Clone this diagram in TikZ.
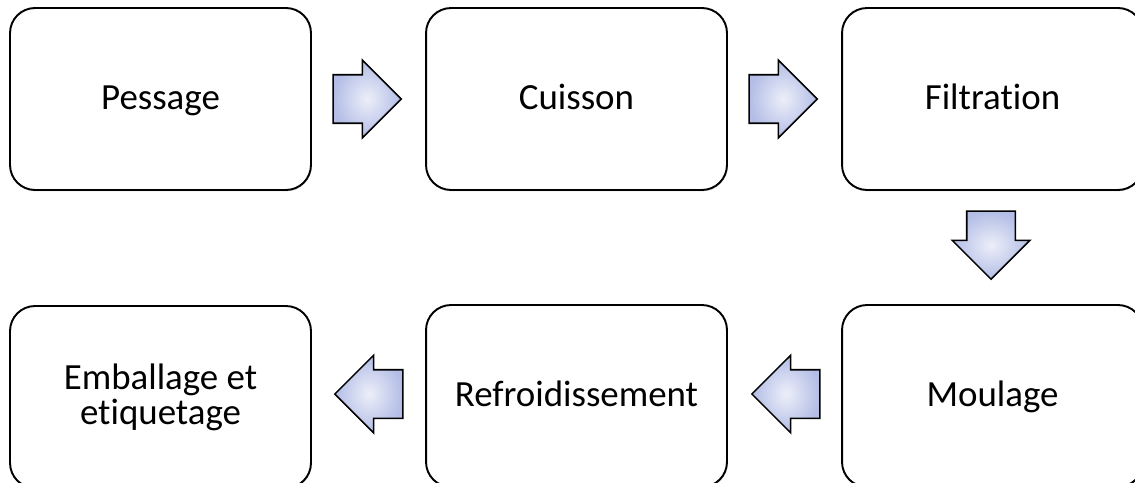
\documentclass[tikz,border=0pt]{standalone}
\usepackage{fontspec}
\setmainfont{Carlito}[Ligatures=NoCommon]
\usetikzlibrary{shapes.arrows,shadows}

\definecolor{flechebleu}{HTML}{B3BDE6}

\tikzset{
  etape/.style={draw, line width=1.1pt, rounded corners=0.5cm, fill=white,
    minimum width=6.02cm, minimum height=3.64cm, align=center,
    font=\fontsize{21}{20}\selectfont,
    drop shadow={opacity=0.25, shadow xshift=0.4pt, shadow yshift=-0.8pt}},
  uneligne/.style={text height=0.42cm, text depth=0cm},
  fleche/.style={single arrow, draw, line width=0.9pt, inner xsep=0pt, inner ysep=0.47cm,
    single arrow head extend=0.29cm, minimum height=1.36cm,
    inner color=white!75!flechebleu, outer color=flechebleu},
  flechebas/.style={fleche, shape border rotate=270, inner xsep=0.47cm, inner ysep=0pt}
}

\begin{document}
\begin{tikzpicture}[x=0.02cm,y=-0.02cm]
\useasboundingbox (0,0) rectangle (1135,483);
% premiere ligne
\node[etape, uneligne] (pesage) at (160.5,99) {Pessage};
\node[etape, uneligne] (cuisson) at (576.5,99) {Cuisson};
\node[etape, uneligne] (filtration) at (992.5,99) {Filtration};
% deuxieme ligne
\node[etape, uneligne] (moulage) at (992.5,396) {Moulage};
\node[etape, uneligne] (refroid) at (576.5,396) {Refroidissement};
\node[etape] (emballage) at (160.5,397) {Emballage et\\etiquetage};
% fleches
\node[fleche] (f1) at (355,99) {};
\node[fleche] (f2) at (771,99) {};
\node[flechebas] (f3) at (991,233) {};
\node[fleche, shape border rotate=180] (f4) at (798,394) {};
\node[fleche, shape border rotate=180] (f5) at (381,394) {};
\end{tikzpicture}
\end{document}
